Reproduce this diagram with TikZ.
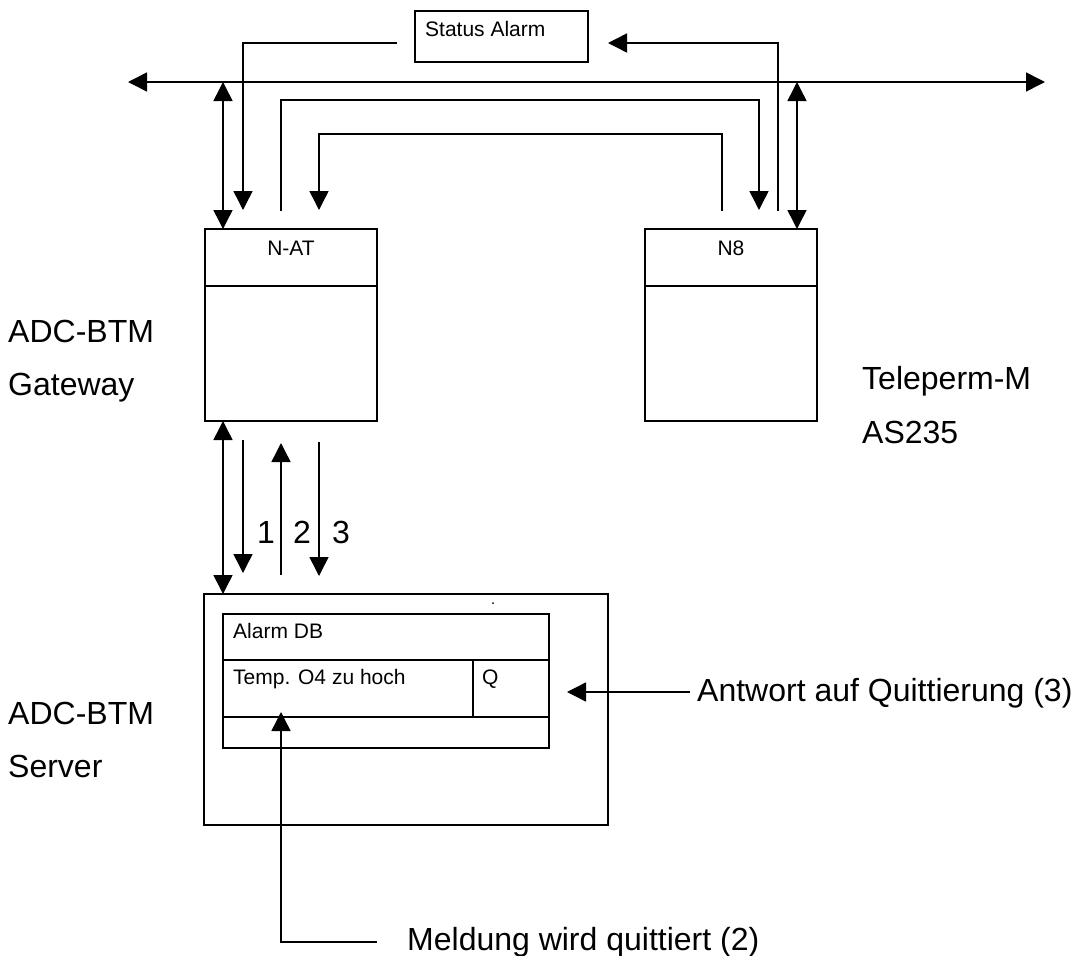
\documentclass[tikz,border=0pt]{standalone}
\usepackage{fontspec}
\setmainfont{Liberation Sans}
\usetikzlibrary{arrows.meta}
\tikzset{
  ln/.style={line width=1.5pt},
  arr/.style={ln,-{Triangle[length=19pt,width=19pt]}},
  dblarr/.style={ln,{Triangle[length=19pt,width=19pt]}-{Triangle[length=19pt,width=19pt]}},
  boxs/.style={draw,line width=1.5pt,inner sep=0pt,outer sep=0pt,anchor=north west},
  big/.style={inner sep=0pt,anchor=base west,font=\fontsize{32}{38}\selectfont},
  small/.style={inner sep=0pt,anchor=base west,font=\fontsize{21}{25}\selectfont},
}
\begin{document}
\begin{tikzpicture}[x=1pt,y=-1pt]
\useasboundingbox (0,0) rectangle (1088,956);
% boxes
\node[boxs,minimum width=173pt,minimum height=51pt] (sa) at (415,11) {};
\node[small] (satxt) at (425,36) {Status Alarm};
\node[boxs,minimum width=172pt,minimum height=192pt] (nat) at (205,229) {};
\node[boxs,minimum width=172pt,minimum height=192pt] (neight) at (645,229) {};
\draw[ln] (205,286) -- (377,286);
\draw[ln] (645,286) -- (817,286);
\node[small,anchor=base] (nattxt) at (291,255) {N-AT};
\node[small,anchor=base] (n8txt) at (731,255) {N8};
\node[boxs,minimum width=404pt,minimum height=231pt] (srv) at (204,594) {};
\node[boxs,minimum width=326pt,minimum height=134pt] (adb) at (223,614) {};
\draw[ln] (223,660) -- (549,660);
\draw[ln] (223,717) -- (549,717);
\draw[ln] (473,660) -- (473,717);
\fill (493,603) circle (1pt);
\node[small] (adbtxt) at (233,638) {Alarm DB};
\node[small] (temptxt) at (233,684) {Temp. O4 zu hoch};
\node[small] (qtxt) at (482,684) {Q};
% labels
\node[big] (gw1) at (8,342) {ADC-BTM};
\node[big] (gw2) at (8,395) {Gateway};
\node[big] (tp1) at (862,389) {Teleperm-M};
\node[big] (tp2) at (862,443) {AS235};
\node[big] (sv1) at (8,724) {ADC-BTM};
\node[big] (sv2) at (8,777) {Server};
\node[big] (ant) at (697,701) {Antwort auf Quittierung (3)};
\node[big] (mel) at (407,950) {Meldung wird quittiert (2)};
\node[big] (l1) at (257,543) {1};
\node[big] (l2) at (293,543) {2};
\node[big] (l3) at (332,543) {3};
% coordinates
\coordinate (busL) at (128,82);
\coordinate (busR) at (1045,82);
\coordinate (saL) at (397,43);
\coordinate (saR) at (608,43);
% bus
\draw[dblarr] (busL) -- (busR);
% top connectors
\draw[dblarr] (223,82) -- (223,229);
\draw[dblarr] (797,82) -- (797,229);
\draw[arr] (saL) -- (243,43) -- (243,210);
\draw[arr] (778,211) -- (778,43) -- (saR);
\draw[arr] (281,211) -- (281,100) -- (759,100) -- (759,210);
\draw[arr] (722,211) -- (722,134) -- (319,134) -- (319,210);
% gateway-server connectors
\draw[dblarr] (223,421) -- (223,594);
\draw[arr] (243,440) -- (243,573);
\draw[arr] (281,575) -- (281,443);
\draw[arr] (319,442) -- (319,576);
% server annotations
\draw[arr] (377,942) -- (281,942) -- (281,712);
\draw[arr] (690,692) -- (567,692);
\end{tikzpicture}
\end{document}
